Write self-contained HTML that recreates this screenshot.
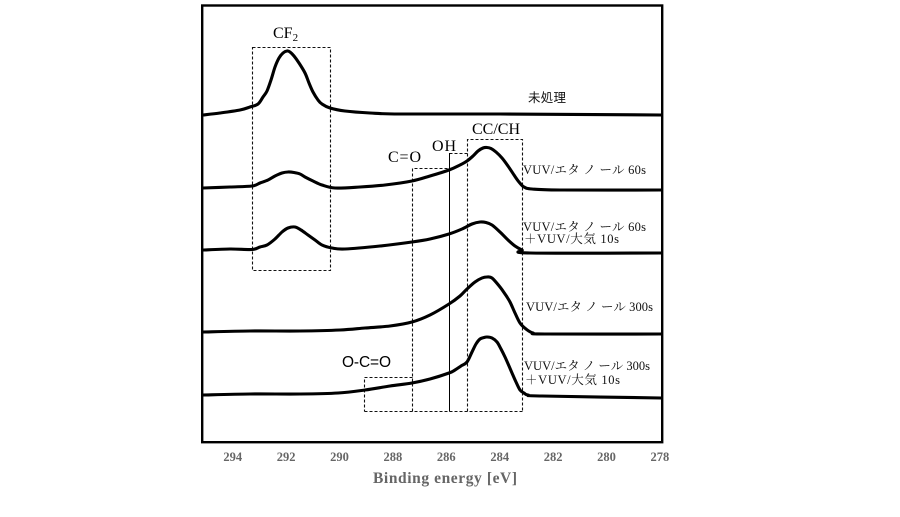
<!DOCTYPE html>
<html><head><meta charset="utf-8"><style>
html,body{margin:0;padding:0;background:#fff;}
svg{display:block;}
.lab{font-family:"Liberation Serif","Noto Serif CJK JP",serif;font-size:12.5px;fill:#111;}
.cl{font-family:"Liberation Serif",serif;font-size:16px;fill:#000;}
.tk{font-family:"Liberation Serif",serif;font-size:12.5px;font-weight:bold;fill:#666;}
</style></head><body>
<svg id="chart" width="900" height="517" viewBox="0 0 900 517" xmlns="http://www.w3.org/2000/svg">
<rect x="0" y="0" width="900" height="517" fill="#fff"/>
<rect x="202.2" y="5.5" width="460" height="436.7" fill="none" stroke="#000" stroke-width="2.4"/>

<!-- boxes -->
<g fill="none" stroke="#111" stroke-width="1.1" stroke-dasharray="3,2">
<rect x="252.5" y="47.5" width="78" height="223"/>
<polyline points="467.5,411.5 467.5,139.5 522.5,139.5 522.5,411.5"/>
<polyline points="449.5,153.5 467.5,153.5"/>
<polyline points="412.5,411.5 412.5,168.5 449.5,168.5"/>
<polyline points="412.5,377.5 364.5,377.5 364.5,411.5"/>
<line x1="364.5" y1="411.5" x2="522.5" y2="411.5"/>
</g>
<line x1="449.5" y1="153" x2="449.5" y2="411.5" stroke="#000" stroke-width="1"/>

<!-- curves -->
<g id="curves" fill="none" stroke="#000" stroke-width="3.1" stroke-linejoin="round" stroke-linecap="round">
<polyline points="203,115 220,113 240,110 250,107 258,104 263,97 267,91 271,80 275,67 279,58 283,53 287,51 290,52 294,56 299,63 305,73 309,83 313,92 318,100 322,104 330,108 345,111 370,113 400,114 500,114 661,115"/>
<polyline points="203,188 230,187 252,186 260,183 268,180 275,176 282,173 288,172 294,172.5 300,174 305,177 313,181 322,185 335,188 360,187 385,185 412,181 430,176 449,170 460,165 467,161 473,156 478,151 483,148 487,147.5 491,148.5 496,152 502,158 508,166 514,175 519,182 524,187 532,189 560,190 661,190"/>
<polyline points="203,250 230,249 252,249.5 260,247 267,245 275,239 282,232 288,228 295,227 301,230 308,235 315,240 322,245 332,248 345,249 380,246 412,242 430,239 449,234 462,229 472,224 480,222 486,222.5 492,225 500,232 508,240 515,246 522,250 530,253 661,253"/>
<polyline points="203,332 250,331 300,331 340,330 365,328 390,326 412,322 430,315 449,304 460,296 467,289 475,282 482,278 487,277 492,278 500,287 505,294 510,302 515,313 520,323 526,329 533,333 545,334 661,334"/>
<polyline points="203,395 250,394 300,394 338,393 365,390 390,386 412,383 430,379 449,373 455,370 461,366 467,362 472,352 476,344 480,339 484,337.5 487,337 492,338 497,342 501,349 505,357 509,366 512,373 516,382 520,390 524,393 528,395 542,396 661,398"/>
</g>

<!-- peak labels -->
<text class="cl" x="273" y="38">CF<tspan font-size="11" dy="3">2</tspan></text>
<text class="cl" x="388" y="162" textLength="33">C=O</text>
<text class="cl" x="432" y="151" textLength="24">OH</text>
<text class="cl" x="472" y="134" textLength="48">CC/CH</text>
<text x="342" y="367" textLength="49" style="font-family:'Liberation Sans',sans-serif;font-size:15.5px;fill:#000;">O-C=O</text>

<!-- series labels -->
<text x="528" y="102" textLength="38" style="font-family:'Liberation Sans','Noto Sans CJK JP',sans-serif;font-size:12.5px;fill:#111;">未処理</text>
<text class="lab" x="523" y="174" textLength="123">VUV/エタ ノ ール 60s</text>
<text class="lab" x="523" y="231" textLength="123">VUV/エタ ノ ール 60s</text>
<text class="lab" x="524" y="243" textLength="95">＋VUV/大気 10s</text>
<text class="lab" x="526" y="311" textLength="127">VUV/エタ ノ ール 300s</text>
<text class="lab" x="524" y="370" textLength="126">VUV/エタ ノ ール 300s</text>
<text class="lab" x="525" y="384" textLength="95">＋VUV/大気 10s</text>

<!-- ticks -->
<g class="tk" text-anchor="middle">
<text x="232.7" y="461">294</text>
<text x="286.1" y="461">292</text>
<text x="339.5" y="461">290</text>
<text x="392.9" y="461">288</text>
<text x="446.3" y="461">286</text>
<text x="499.7" y="461">284</text>
<text x="553.1" y="461">282</text>
<text x="606.5" y="461">280</text>
<text x="659.9" y="461">278</text>
</g>
<text x="373" y="483" textLength="144" style="font-family:'Liberation Serif',serif;font-size:15.5px;font-weight:bold;fill:#666;">Binding energy [eV]</text>
</svg>
<script>
(function(){
  var g=document.getElementById('curves');
  if(!g)return;
  var pls=g.getElementsByTagName('polyline');
  var arr=[];for(var i=0;i<pls.length;i++)arr.push(pls[i]);
  arr.forEach(function(pl){
    var raw=pl.getAttribute('points').trim().split(/\s+/).map(function(s){var a=s.split(',');return [parseFloat(a[0]),parseFloat(a[1])];});
    var d='M'+raw[0][0]+','+raw[0][1];
    for(var i=0;i<raw.length-1;i++){
      var p0=raw[i-1]||raw[i],p1=raw[i],p2=raw[i+1],p3=raw[i+2]||p2;
      var c1x=p1[0]+(p2[0]-p0[0])/6,c1y=p1[1]+(p2[1]-p0[1])/6;
      var c2x=p2[0]-(p3[0]-p1[0])/6,c2y=p2[1]-(p3[1]-p1[1])/6;
      d+=' C'+c1x.toFixed(2)+','+c1y.toFixed(2)+' '+c2x.toFixed(2)+','+c2y.toFixed(2)+' '+p2[0]+','+p2[1];
    }
    var p=document.createElementNS('http://www.w3.org/2000/svg','path');
    p.setAttribute('d',d);
    g.replaceChild(p,pl);
  });
})();
</script>
</body></html>
